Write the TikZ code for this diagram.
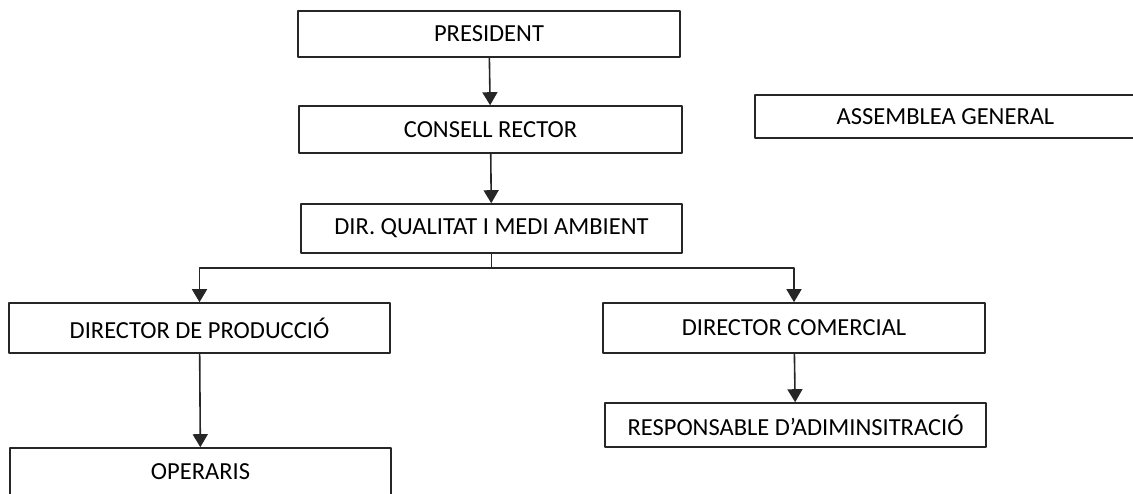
\documentclass[tikz,border=0pt]{standalone}
\usepackage{fontspec}
\setmainfont{Carlito}
\usepackage{tikz}
\usetikzlibrary{arrows.meta}

\tikzset{orgbox/.style={draw=black!85,line width=1.6pt,minimum width=381pt,minimum height=47pt,inner sep=0pt,font=\fontsize{24.5}{29}\selectfont}}

\begin{document}
\begin{tikzpicture}[line cap=round,line join=round,>={Triangle[length=13pt,width=15pt]},x=1pt,y=-1pt]
\useasboundingbox (0,0) rectangle (1133,493);
\clip (0,0) rectangle (1133,493);
\node[orgbox,minimum width=382pt,minimum height=46pt] (pres) at (489,34) {PRESIDENT};
\node[orgbox,minimum width=383pt] (cons) at (490.5,129.5) {CONSELL RECTOR};
\node[orgbox,minimum height=49pt] (dir) at (491.5,228.5) {DIR. QUALITAT I MEDI AMBIENT};
\node[orgbox,minimum height=43pt] (asse) at (945.5,116.5) {ASSEMBLEA GENERAL};
\node[orgbox,minimum height=50pt] (prod) at (199.5,328) {DIRECTOR DE PRODUCCIÓ};
\node[orgbox,minimum width=382pt,minimum height=50pt] (com) at (794,328) {DIRECTOR COMERCIAL};
\node[orgbox,minimum height=44pt] (resp) at (795.5,425) {RESPONSABLE D’ADIMINSITRACIÓ};
\node[orgbox] (oper) at (200.5,471.5) {OPERARIS};
\coordinate (split) at ([yshift=-14pt]dir.south);
\draw[->,line width=1.6pt,black!85] (pres) -- (cons);
\draw[->,line width=1.6pt,black!85] (cons) -- (dir);
\draw[line width=1.6pt,black!85] (dir) -- (split);
\draw[->,line width=1.6pt,black!85] (split) -| (prod);
\draw[->,line width=1.6pt,black!85] (split) -| (com);
\draw[->,line width=1.6pt,black!85] (prod) -- (oper);
\draw[->,line width=1.6pt,black!85] (com) -- (resp);
\end{tikzpicture}
\end{document}
